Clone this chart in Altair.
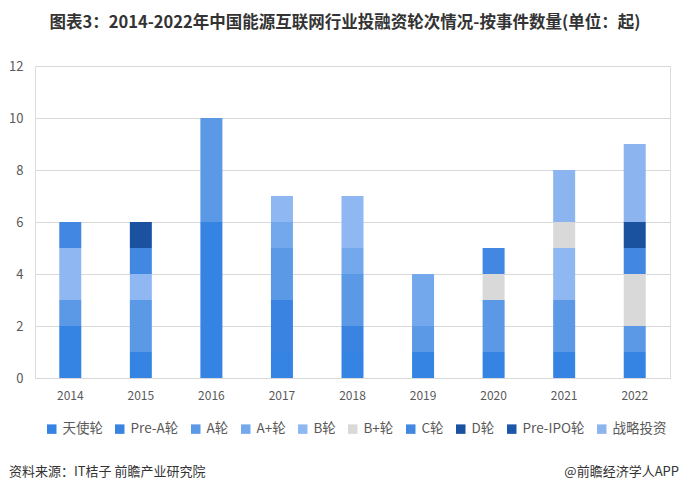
import altair as alt
import pandas as pd

years = ["2014", "2015", "2016", "2017", "2018", "2019", "2020", "2021", "2022"]
stages = ["天使轮", "Pre-A轮", "A轮", "A+轮", "B轮", "B+轮", "C轮", "D轮", "Pre-IPO轮", "战略投资"]
angel = [2, 1, 6, 1, 1, 1, 1, 1, 1]
pre_a = [0, 0, 0, 2, 1, 0, 0, 0, 0]
round_a = [1, 2, 4, 2, 2, 1, 2, 2, 1]
round_a_plus = [0, 0, 0, 1, 1, 2, 0, 0, 0]
round_b = [2, 1, 0, 1, 2, 0, 0, 2, 0]
round_b_plus = [0, 0, 0, 0, 0, 0, 1, 1, 2]
round_c = [1, 1, 0, 0, 0, 0, 1, 0, 1]
round_d = [0, 1, 0, 0, 0, 0, 0, 0, 1]
pre_ipo = [0, 0, 0, 0, 0, 0, 0, 0, 0]
strategic = [0, 0, 0, 0, 0, 0, 0, 2, 3]
colors = ["#3584e4", "#3b83e0", "#5b98e6", "#74a8ec", "#8fb8f2",
          "#d9d9d9", "#4287e2", "#1a52a0", "#1a56aa", "#8cb4ee"]

series = [angel, pre_a, round_a, round_a_plus, round_b, round_b_plus,
          round_c, round_d, pre_ipo, strategic]
rows = []
for si, (name, vals) in enumerate(zip(stages, series)):
    for y, v in zip(years, vals):
        rows.append({"year": y, "stage": name, "order": si, "count": v})
df = pd.DataFrame(rows)

FONT = "Noto Sans CJK SC"

bars = alt.Chart(df).mark_bar(size=22).encode(
    x=alt.X("year:N", sort=years, title=None,
            axis=alt.Axis(labelAngle=0, labelFontSize=12, labelColor="#595959",
                          domainColor="#d9d9d9", ticks=False, labelPadding=12,
                          labelFont=FONT)),
    y=alt.Y("count:Q", stack="zero", title=None,
            scale=alt.Scale(domain=[0, 12]),
            axis=alt.Axis(values=[0, 2, 4, 6, 8, 10, 12], domain=False, ticks=False,
                          gridColor="#d9d9d9", labelFontSize=13, labelColor="#595959",
                          labelPadding=12, labelFont=FONT)),
    color=alt.Color("stage:N", scale=alt.Scale(domain=stages, range=colors),
                    legend=alt.Legend(orient="none", direction="horizontal",
                                      legendX=10, legendY=356, title=None,
                                      symbolType="square", symbolSize=90,
                                      symbolStrokeWidth=0, labelFontSize=13.5,
                                      labelColor="#595959", labelFont=FONT,
                                      columnPadding=10, symbolOffset=0,
                                      labelOffset=4)),
    order=alt.Order("order:Q", sort="ascending"),
)

title_df = pd.DataFrame({"t": ["图表3：2014-2022年中国能源互联网行业投融资轮次情况-按事件数量(单位：起)"]})
title = alt.Chart(title_df).mark_text(fontSize=16.5, fontWeight="bold", font=FONT,
                                      color="#333333", align="center", baseline="middle").encode(
    text="t:N", x=alt.value(310), y=alt.value(-43))

src_df = pd.DataFrame({"t": ["资料来源：IT桔子 前瞻产业研究院"]})
src = alt.Chart(src_df).mark_text(fontSize=13, font=FONT, color="#333333",
                                  align="left", baseline="middle").encode(
    text="t:N", x=alt.value(-26), y=alt.value(406))

app_df = pd.DataFrame({"t": ["@前瞻经济学人APP"]})
app = alt.Chart(app_df).mark_text(fontSize=13, font=FONT, color="#333333",
                                  align="right", baseline="middle").encode(
    text="t:N", x=alt.value(644), y=alt.value(406))

chart = alt.layer(bars, title, src, app).properties(
    width=635, height=312,
    autosize=alt.AutoSizeParams(type="none"),
    padding={"left": 27, "top": 58, "right": 10, "bottom": 109},
).configure_view(strokeWidth=0).configure(background="white")

chart.save("out.html", embed_options={"renderer": "svg", "actions": False})
